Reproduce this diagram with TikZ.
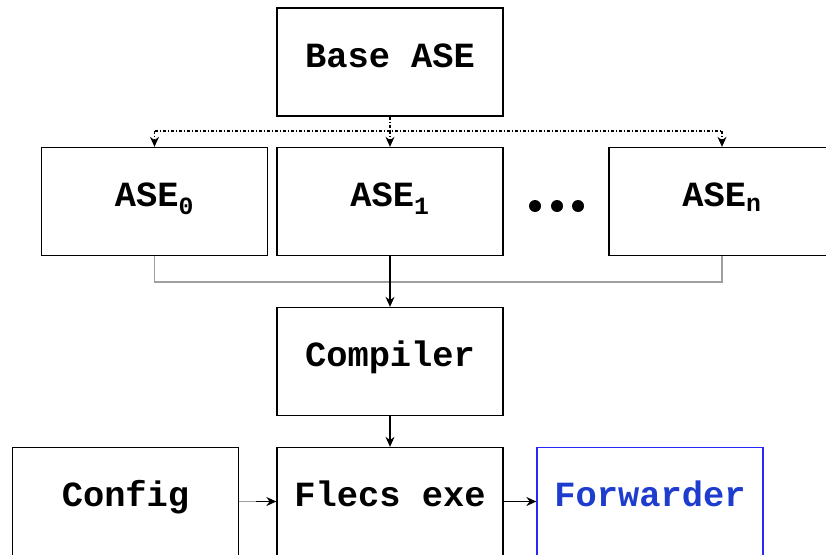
\documentclass[tikz,border=0pt]{standalone}
\usepackage{fontspec}
\setmainfont{Liberation Mono}
\usetikzlibrary{arrows.meta}
\definecolor{fwdblue}{RGB}{40,40,250}
\definecolor{fwdtext}{RGB}{30,60,205}
\begin{document}
\begin{tikzpicture}[x=1pt, y=-1pt, >={Stealth[length=10pt,width=9pt]}, line width=1.3pt,
  box/.style={draw, minimum width=226pt, minimum height=108pt, inner sep=0pt,
    text height=18pt, text depth=8pt, font=\fontsize{35.4}{40}\selectfont\bfseries},
  derive/.style={dash pattern=on 3pt off 2pt on 1pt off 2pt},
  merge/.style={draw=gray!75}]
\useasboundingbox (0,0) rectangle (826,554);
\clip (0,0) rectangle (826,554);

\node[box] (base) at (390,62){Base ASE};
\node[box] (ase0) at (154.5,201.5){ASE\textsubscript{0}};
\node[box] (ase1) at (390,201.5){ASE\textsubscript{1}};
\node[box] (asen) at (722,201.5){ASE\textsubscript{n}};
\foreach \x in {535,557,578} \fill (\x,206) circle (6pt);

\node[box] (comp) at (390,361.5){Compiler};
\node[box] (config) at (125.5,501.5){Config};
\node[box] (flecs) at (390,501.5){Flecs exe};
\node[box, draw=fwdblue, text=fwdtext] (fwd) at (650,501.5){Forwarder};

% base ASE feeds every variant
\coordinate (split) at (390,131);
\draw[derive] (base) -- (split);
\draw[derive] (split -| ase0) -- (split -| asen);
\draw[derive,->] (split -| ase0) -- (ase0);
\draw[derive,->] (split) -- (ase1);
\draw[derive,->] (split -| asen) -- (asen);

% variants go into the compiler
\coordinate (join) at (390,282);
\draw[merge] (ase0.south) |- (join) -| (asen.south);
\draw[->] (ase1) -- (comp);
\draw[->] (comp) -- (flecs);

\coordinate (cfgout) at (256,501.5);
\draw[merge] (config) -- (cfgout);
\draw[->] (cfgout) -- (flecs);
\draw[->] (flecs) -- (fwd);
\end{tikzpicture}
\end{document}
